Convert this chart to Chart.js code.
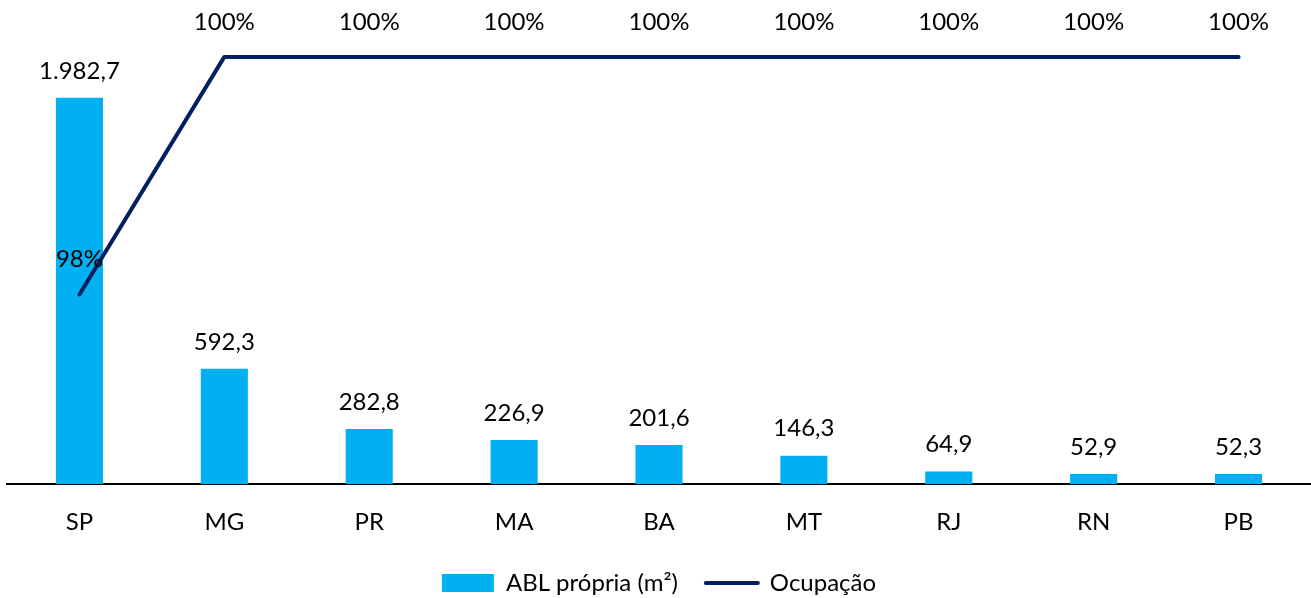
<!DOCTYPE html>
<html>
<head>
<meta charset="utf-8">
<script src="https://cdn.jsdelivr.net/npm/chart.js@4"></script>
<style>
  html, body { margin: 0; padding: 0; background: #fff; }
  #wrap { width: 1311px; height: 598px; }
</style>
</head>
<body>
<div id="wrap"><canvas id="ablChart"></canvas></div>
<script>
const estados = ['SP', 'MG', 'PR', 'MA', 'BA', 'MT', 'RJ', 'RN', 'PB'];
const ablPropria = [1982.7, 592.3, 282.8, 226.9, 201.6, 146.3, 64.9, 52.9, 52.3];
const ocupacao = [98, 100, 100, 100, 100, 100, 100, 100, 100];

const fontFamily = 'Lato, "Open Sans", sans-serif';

function fmtAbl(v) {
    const parts = v.toFixed(1).split('.');
    parts[0] = parts[0].replace(/\B(?=(\d{3})+(?!\d))/g, '.');
    return parts.join(',');
}

// labels above bars and line points
const valueLabels = {
    id: 'valueLabels',
    afterDatasetsDraw(chart) {
        const ctx = chart.ctx;
        ctx.save();
        ctx.font = '24px ' + fontFamily;
        ctx.fillStyle = '#000';
        ctx.textAlign = 'center';
        ctx.textBaseline = 'middle';
        chart.getDatasetMeta(0).data.forEach((bar, i) => {
            ctx.fillText(fmtAbl(ablPropria[i]), bar.x, bar.y - 27);
        });
        chart.getDatasetMeta(1).data.forEach((pt, i) => {
            ctx.fillText(ocupacao[i] + '%', pt.x, pt.y - 35);
        });
        ctx.restore();
    }
};

const chartData = {
    labels: estados,
    datasets: [
        {
            type: 'bar',
            label: 'ABL própria (m²)',
            data: ablPropria,
            backgroundColor: '#00B0F0',
            yAxisID: 'y',
            categoryPercentage: 1,
            barPercentage: 0.325,
            order: 2
        },
        {
            type: 'line',
            label: 'Ocupação',
            data: ocupacao,
            borderColor: '#002060',
            backgroundColor: '#002060',
            borderWidth: 4,
            borderCapStyle: 'round',
            borderJoinStyle: 'round',
            pointRadius: 0,
            tension: 0,
            clip: false,
            yAxisID: 'y2',
            order: 1
        }
    ]
};

const chartConfig = {
    type: 'bar',
    data: chartData,
    plugins: [valueLabels],
    options: {
        responsive: true,
        maintainAspectRatio: false,
        animation: false,
        layout: { padding: { left: 7, right: 0, top: 0, bottom: -7 } },
        plugins: {
            tooltip: { enabled: false },
            legend: {
                position: 'bottom',
                labels: {
                    usePointStyle: true,
                    pointStyleWidth: 52,
                    boxHeight: 18,
                    padding: 10,
                    color: '#000',
                    font: { family: fontFamily, size: 24 },
                    generateLabels: function(chart) {
                        return [
                            { text: 'ABL própria (m²)\u2003', pointStyle: 'rect', fillStyle: '#00B0F0',
                              strokeStyle: '#00B0F0', lineWidth: 0, datasetIndex: 0 },
                            { text: 'Ocupação', pointStyle: 'line', fillStyle: '#002060',
                              strokeStyle: '#002060', lineWidth: 4, lineCap: 'round', datasetIndex: 1 }
                        ];
                    }
                }
            }
        },
        scales: {
            x: {
                grid: { display: false, drawTicks: false },
                border: { display: true, color: '#000', width: 2 },
                ticks: {
                    color: '#000',
                    padding: 24,
                    font: { family: fontFamily, size: 24 }
                }
            },
            y: {
                display: false,
                min: 0,
                max: 2485
            },
            y2: {
                display: false,
                min: 96.403,
                max: 100.479
            }
        }
    }
};

let chartID = document.getElementById('ablChart');
let chart = new Chart(chartID, chartConfig);
</script>
</body>
</html>
